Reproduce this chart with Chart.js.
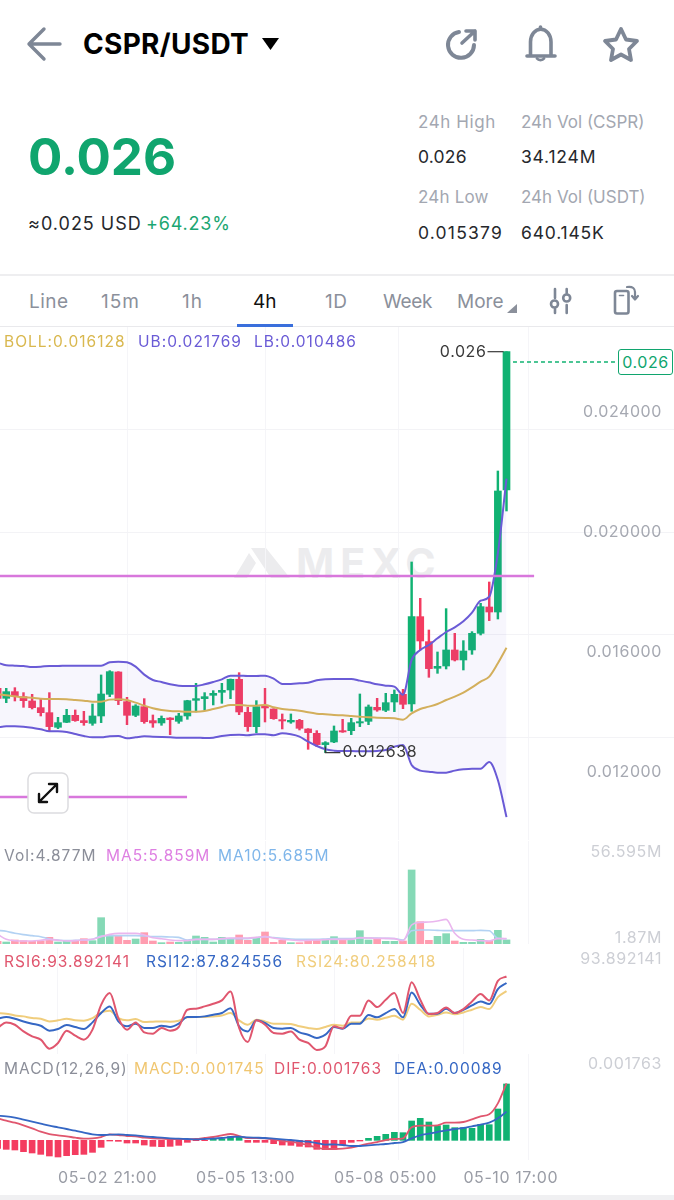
<!DOCTYPE html>
<html>
<head>
<meta charset="utf-8">
<title>CSPR/USDT</title>
<script src="https://cdn.jsdelivr.net/npm/chart.js@4/dist/chart.umd.min.js"></script>
<style>
html, body { margin: 0; padding: 0; background: #fff; }
body { position: relative; width: 674px; height: 1200px; overflow: hidden; font-family: Inter, "Noto Sans", sans-serif; }
.t { position: absolute; white-space: nowrap; line-height: 1; }
.abs { position: absolute; }
canvas { position: absolute; left: 0; display: block; }
.gray { color: #a3a7b1; font-size: 17px; }
.dark { color: #26282c; font-size: 17.5px; letter-spacing: 0.8px; }
.tab { color: #8b909b; font-size: 19px; top: 292px; }
.leg { font-size: 15.5px; letter-spacing: 1px; }
</style>
</head>
<body>

<!-- header -->
<svg class="abs" style="left:0;top:0" width="674" height="330" fill="none" stroke="#7e8796" stroke-width="3.4" stroke-linecap="round" stroke-linejoin="round">
  <path d="M29 44H60M44 29L29 44L44 59"/>
  <path d="M262 38H279L270.5 50Z" fill="#000" stroke="none"/>
  <path d="M459 32A13 13 0 1 0 474 45" stroke-width="4"/>
  <path d="M462 43L475 31M466 31H475V40" stroke-width="3.6"/>
  <path d="M530.5 55V42A10 12.500 0 0 1 551 42V55" stroke-width="3.6"/>
  <path d="M527 56H555M540.500 27V29" stroke-width="3.6"/>
  <path d="M537 58.500A4 3 0 0 0 544 58.500" stroke-width="2.800"/>
  <path d="M621 29L626 39.500L637 41L629 49L631 60L621 54.500L611 60L613 49L605 41L616 39.500Z" stroke-width="3.8"/>
  <path d="M555 289V298M555 309V313M566.700 289V293M566.700 305V313" stroke-width="2.600"/>
  <circle cx="554.500" cy="304" r="3.500" stroke-width="2.600"/>
  <circle cx="566.700" cy="298" r="3.500" stroke-width="2.600"/>
  <rect x="615" y="291" width="13.500" height="22.500" rx="2" stroke-width="2.600"/>
  <path d="M619.500 295.500H623.500" stroke-width="1.600"/>
  <path d="M627 287C633 286 635 289 635 292V299M632 296L635 299.500L638 296" stroke-width="2.200"/>
  <path d="M517 304V313H507Z" fill="#8b909b" stroke="none"/>
</svg>
<div class="t" style="left:83px;top:30px;font-size:28px;font-weight:700;color:#000;letter-spacing:0.3px">CSPR/USDT</div>
<div class="t" style="left:28px;top:131px;font-size:51px;font-weight:700;color:#10a56e">0.026</div>
<div class="t" style="left:28px;top:215px;font-size:18px;color:#26282c;letter-spacing:1px">≈0.025 USD</div>
<div class="t" style="left:146px;top:215px;font-size:18px;color:#1ba672;letter-spacing:0.8px">+64.23%</div>
<div class="t gray" style="left:418px;top:114px;letter-spacing:0.6px">24h High</div>
<div class="t dark" style="left:418px;top:148px;letter-spacing:0.2px">0.026</div>
<div class="t gray" style="left:418px;top:189px;letter-spacing:0.2px">24h Low</div>
<div class="t dark" style="left:418px;top:224px;letter-spacing:1.2px">0.015379</div>
<div class="t gray" style="left:521px;top:114px">24h Vol (CSPR)</div>
<div class="t dark" style="left:521px;top:148px">34.124M</div>
<div class="t gray" style="left:521px;top:189px">24h Vol (USDT)</div>
<div class="t dark" style="left:521px;top:224px">640.145K</div>

<!-- period tabs -->
<div class="abs" style="left:0;top:274px;width:674px;height:2px;background:#eeeef0"></div>
<div class="t tab" style="left:29px;letter-spacing:0.5px">Line</div>
<div class="t tab" style="left:101px;letter-spacing:1px">15m</div>
<div class="t tab" style="left:182px;letter-spacing:1px">1h</div>
<div class="t tab" style="left:253px;color:#111">4h</div>
<div class="t tab" style="left:325px;letter-spacing:0.5px">1D</div>
<div class="t tab" style="left:383px;letter-spacing:-0.3px">Week</div>
<div class="t tab" style="left:457px">More</div>
<div class="abs" style="left:0;top:326px;width:674px;height:1px;background:#e9e9ec"></div>
<div class="abs" style="left:237px;top:324px;width:56px;height:3px;background:#3a6fdc"></div>

<!-- watermark, sits under the candle canvas -->
<svg class="abs" style="left:234px;top:548px" width="60" height="30"><path d="M0 30L15 5L22 15L13 30ZM17 0H32L56 30H37Z" fill="#ececee"/></svg>
<div class="t" style="left:296px;top:543px;font-size:41px;font-weight:700;color:#ececee;letter-spacing:6px">MEXC</div>

<canvas id="priceChart" style="top:327px" width="674" height="513"></canvas>
<canvas id="volChart" style="top:841px" width="674" height="103"></canvas>
<canvas id="rsiChart" style="top:948px" width="674" height="106"></canvas>
<canvas id="macdChart" style="top:1054px" width="674" height="141"></canvas>

<!-- indicator legends -->
<div class="t leg" style="left:4px;top:334px;color:#d9b84f">BOLL:0.016128</div>
<div class="t leg" style="left:138px;top:334px;color:#6a5bd6">UB:0.021769</div>
<div class="t leg" style="left:254px;top:334px;color:#6a5bd6">LB:0.010486</div>
<div class="t leg" style="left:4px;top:848px;color:#8b8e99">Vol:4.877M</div>
<div class="t leg" style="left:106px;top:848px;color:#de7fe2">MA5:5.859M</div>
<div class="t leg" style="left:218px;top:848px;color:#7fb6ea">MA10:5.685M</div>
<div class="t leg" style="left:4px;top:954px;color:#e0566e">RSI6:93.892141</div>
<div class="t leg" style="left:146px;top:954px;color:#3567c4">RSI12:87.824556</div>
<div class="t leg" style="left:296px;top:954px;color:#f0cd7c">RSI24:80.258418</div>
<div class="t leg" style="left:4px;top:1061px;color:#8b8e99">MACD(12,26,9)</div>
<div class="t leg" style="left:134px;top:1061px;color:#f0c670">MACD:0.001745</div>
<div class="t leg" style="left:274px;top:1061px;color:#e0566e">DIF:0.001763</div>
<div class="t leg" style="left:394px;top:1061px;color:#3567c4">DEA:0.00089</div>

<!-- last price tag and expand button -->
<div class="t" style="left:618px;top:349px;width:53px;height:24px;border:1.500px solid #10a56e;border-radius:3px;background:#fff;color:#10a56e;font-size:16px;line-height:24px;text-align:center;letter-spacing:0.6px">0.026</div>
<svg class="abs" style="left:27px;top:772px" width="42" height="42" fill="none" stroke="#111" stroke-width="2.400" stroke-linecap="round" stroke-linejoin="round">
  <rect x="1" y="1" width="40" height="40" rx="6" fill="#fff" stroke="#dcdcdf" stroke-width="1.500"/>
  <path d="M12 30L30 12M22 12H30V20M12 22V30H20"/>
</svg>
<div class="abs" style="left:0;top:1195px;width:674px;height:5px;background:#f0f0f2"></div>

<script>
/*********************** Data ************************/
var opens  = [0.014779,0.014446,0.014668,0.014501,0.014357,0.014135,0.013968,0.013479,0.013646,0.013879,0.013702,0.013613,0.013857,0.014579,0.015324,0.014335,0.013879,0.014168,0.013702,0.013624,0.013790,0.013679,0.013857,0.014379,0.014435,0.014546,0.014646,0.014724,0.015079,0.013979,0.013501,0.014213,0.014090,0.013735,0.013657,0.013713,0.013424,0.013279,0.012902,0.012990,0.013368,0.013368,0.013624,0.013679,0.014146,0.014046,0.014323,0.014579,0.014257,0.017168,0.016335,0.015446,0.015523,0.016057,0.015724,0.016057,0.016612,0.017490,0.017323,0.021390];
var highs  = [0.014813,0.014779,0.014801,0.014635,0.014579,0.014413,0.014635,0.013813,0.014079,0.014057,0.014013,0.014257,0.015224,0.015368,0.015335,0.014479,0.014235,0.014435,0.013890,0.013857,0.013800,0.013946,0.014380,0.014946,0.014635,0.014701,0.014946,0.015090,0.015301,0.014146,0.014368,0.014779,0.014100,0.013924,0.013924,0.013746,0.013434,0.013368,0.013001,0.013524,0.013746,0.013779,0.014590,0.014224,0.014446,0.014612,0.014724,0.014746,0.018990,0.017779,0.016723,0.015990,0.017435,0.016612,0.016368,0.016668,0.017612,0.018323,0.022023,0.026];
var lows   = [0.014390,0.014301,0.014357,0.014146,0.014090,0.013857,0.013368,0.013435,0.013635,0.013679,0.013546,0.013546,0.013635,0.014501,0.014235,0.013568,0.013835,0.013613,0.013479,0.013546,0.013235,0.013613,0.013746,0.013990,0.014057,0.014224,0.014279,0.014435,0.013901,0.013346,0.013301,0.013657,0.013746,0.013424,0.013613,0.013390,0.012746,0.012835,0.012638,0.012968,0.013310,0.013235,0.013502,0.013568,0.014013,0.014002,0.014002,0.014101,0.014013,0.016057,0.015146,0.015279,0.015424,0.015690,0.015390,0.015912,0.016557,0.017035,0.017090,0.020690];
var closes = [0.014446,0.014668,0.014535,0.014368,0.014135,0.013968,0.013502,0.013635,0.013879,0.013702,0.013635,0.013857,0.014590,0.015335,0.014368,0.013879,0.014190,0.013668,0.013624,0.013779,0.013735,0.013857,0.014368,0.014435,0.014501,0.014613,0.014713,0.015079,0.013990,0.013502,0.014168,0.014124,0.013768,0.013690,0.013713,0.013446,0.013302,0.012902,0.012968,0.013357,0.013324,0.013635,0.013668,0.014157,0.014057,0.014301,0.014579,0.014246,0.017168,0.016357,0.015435,0.015512,0.016057,0.015724,0.016023,0.016612,0.017501,0.017323,0.021357,0.026];

var ubVals  = [0.015635,0.015546,0.015535,0.015524,0.015490,0.015501,0.015524,0.015524,0.015535,0.015535,0.015535,0.015535,0.015535,0.015646,0.015668,0.015646,0.015501,0.015235,0.015057,0.014990,0.014913,0.014868,0.014857,0.014857,0.014913,0.014990,0.015079,0.015201,0.015201,0.015190,0.015190,0.015201,0.015101,0.014924,0.014924,0.014946,0.014968,0.015046,0.015079,0.015090,0.015090,0.015090,0.015035,0.014979,0.014912,0.014868,0.014835,0.014568,0.015724,0.016057,0.016224,0.016446,0.016657,0.016812,0.017012,0.017301,0.017701,0.017835,0.019290,0.021769];
var midVals = [0.014590,0.014546,0.014513,0.014479,0.014468,0.014435,0.014424,0.014424,0.014413,0.014390,0.014368,0.014335,0.014335,0.014402,0.014413,0.014390,0.014301,0.014202,0.014113,0.014057,0.014024,0.014013,0.014002,0.014002,0.014024,0.014090,0.014157,0.014224,0.014224,0.014202,0.014202,0.014224,0.014146,0.014090,0.014068,0.014035,0.013979,0.013935,0.013913,0.013890,0.013879,0.013857,0.013835,0.013813,0.013802,0.013791,0.013780,0.013735,0.013946,0.014090,0.014168,0.014257,0.014390,0.014501,0.014635,0.014813,0.015001,0.015168,0.015613,0.016128];
var lbVals  = [0.013479,0.013513,0.013513,0.013502,0.013468,0.013413,0.013346,0.013346,0.013324,0.013257,0.013190,0.013146,0.013146,0.013179,0.013190,0.013113,0.013146,0.013179,0.013168,0.013157,0.013146,0.013135,0.013135,0.013135,0.013124,0.013135,0.013190,0.013224,0.013235,0.013213,0.013246,0.013246,0.013213,0.013279,0.013246,0.013168,0.013001,0.012857,0.012746,0.012702,0.012691,0.012691,0.012679,0.012679,0.012691,0.012724,0.012835,0.012890,0.012224,0.012035,0.012002,0.011968,0.011968,0.012035,0.012079,0.012102,0.012102,0.012324,0.011724,0.010486];

var volumes  = [3.84,3.35,4.83,4.33,3.84,4.09,6.80,3.35,4.09,3.84,5.81,4.33,21.33,8.27,7.78,4.58,5.56,10.24,4.09,2.86,3.35,3.10,3.84,7.78,6.80,3.35,6.80,6.06,8.52,4.58,6.30,10.74,3.10,4.58,2.86,2.86,5.32,4.83,4.58,7.29,5.32,4.83,11.72,4.83,5.81,3.84,3.84,4.09,56.595,18.37,4.58,7.54,9.51,4.09,3.10,3.10,5.32,4.09,11.97,4.877];
var ma5Vals  = [9.01,5.32,4.33,4.09,4.09,4.58,5.32,4.58,4.09,4.33,4.83,5.32,7.29,9.01,9.75,9.75,9.75,8.52,6.55,5.81,4.83,4.33,4.33,5.32,5.32,5.32,5.81,6.30,6.30,6.30,6.80,7.29,6.30,5.32,4.83,4.33,4.58,4.83,5.07,5.32,5.32,5.32,6.55,6.30,6.06,6.06,5.81,4.33,15.91,17.88,18.13,18.86,20.10,9.75,5.32,4.83,4.33,4.09,5.81,5.859];
var ma10Vals = [11.97,11.23,9.75,8.77,8.03,7.29,5.56,4.83,4.33,4.58,4.83,5.32,7.78,8.03,8.03,8.03,8.03,7.78,7.29,7.29,7.04,6.80,4.83,5.32,5.32,5.32,5.56,5.81,5.81,5.81,6.55,7.29,6.55,6.06,5.56,5.32,5.32,5.32,5.56,5.81,5.81,5.81,6.30,6.30,6.30,6.06,5.81,4.83,11.72,12.21,12.21,11.97,11.72,11.72,11.72,11.72,11.97,11.72,6.06,5.685];

var rsi6Vals  = [45.9,51.1,48.9,42.7,38.1,35.0,26.6,31.9,43.4,38.7,35.0,44.3,67.5,78.4,55.1,44.3,51.1,41.8,40.6,45.9,43.4,46.8,62.9,63.8,66.0,68.5,71.6,79.9,45.9,32.8,53.0,48.9,41.2,40.6,42.7,35.0,31.9,25.4,28.8,47.4,45.5,57.3,57.3,71.6,65.4,72.2,78.4,59.8,88.6,72.2,58.9,59.8,65.1,59.8,63.5,70.6,77.5,71.6,89.9,93.892141];
var rsi12Vals = [54.5,56.1,54.5,52.0,49.9,48.0,43.4,44.9,48.6,46.8,44.9,51.1,59.8,66.0,52.0,47.4,49.9,45.9,45.9,48.0,46.8,49.9,56.1,56.1,56.7,58.2,59.8,64.4,47.4,42.7,53.0,50.5,45.9,45.2,45.9,41.8,39.6,36.5,39.6,46.8,45.2,49.9,49.9,57.9,55.8,59.8,63.5,55.8,79.0,67.5,59.2,59.2,63.8,59.8,62.9,66.9,70.6,68.2,82.1,87.824556];
var rsi24Vals = [59.8,59.2,57.6,56.7,55.1,54.5,52.0,53.0,54.5,53.0,52.7,55.1,60.4,62.0,55.1,53.0,54.2,51.4,51.7,52.0,51.7,52.7,55.8,56.1,56.1,56.7,57.6,59.8,53.0,48.9,53.6,52.0,49.9,49.9,49.6,47.4,45.9,44.9,46.8,48.9,48.0,51.1,51.1,54.8,53.6,55.4,57.3,53.6,68.5,62.9,56.7,58.2,60.4,58.6,60.4,62.9,65.4,63.5,74.7,80.258418];

var macdVals = [-0.000248,-0.000279,-0.000299,-0.000351,-0.000392,-0.000434,-0.000485,-0.000516,-0.000475,-0.000444,-0.000434,-0.000372,-0.000217,-0.000021,-0.000031,-0.000083,-0.000083,-0.000145,-0.000186,-0.000196,-0.000186,-0.000155,-0.000062,-0.000010,-0.000010,0.000041,0.000052,0.000114,0.000114,-0.000062,-0.000062,-0.000062,-0.000103,-0.000145,-0.000155,-0.000186,-0.000207,-0.000279,-0.000289,-0.000279,-0.000145,-0.000062,-0.000021,0.000062,0.000124,0.000186,0.000248,0.000237,0.000599,0.000681,0.000568,0.000454,0.000475,0.000392,0.000392,0.000372,0.000496,0.000485,0.000971,0.001745];
var difVals  = [0.000681,0.000609,0.000547,0.000465,0.000372,0.000268,0.000196,0.000155,0.000124,0.000083,0.000052,0.000062,0.000103,0.000186,0.000165,0.000134,0.000124,0.000083,0.000062,0.000052,0.000041,0.000041,0.000031,0.000041,0.000072,0.000103,0.000155,0.000196,0.000134,0.000072,0.000072,0.000062,0.000021,-0.000021,-0.000041,-0.000093,-0.000145,-0.000227,-0.000268,-0.000268,-0.000258,-0.000227,-0.000165,-0.000103,-0.000052,0.000010,0.000041,0.000062,0.000403,0.000454,0.000454,0.000465,0.000547,0.000547,0.000568,0.000650,0.000743,0.000805,0.001146,0.001763];
var deaVals  = [0.000764,0.000743,0.000702,0.000640,0.000578,0.000516,0.000454,0.000403,0.000351,0.000299,0.000237,0.000186,0.000165,0.000176,0.000186,0.000165,0.000155,0.000124,0.000103,0.000083,0.000062,0.000052,0.000041,0.000031,0.000041,0.000052,0.000072,0.000103,0.000114,0.000093,0.000083,0.000072,0.000052,0.000031,0.000010,-0.000021,-0.000041,-0.000083,-0.000134,-0.000124,-0.000145,-0.000176,-0.000176,-0.000155,-0.000134,-0.000114,-0.000083,-0.000052,0.000062,0.000155,0.000206,0.000258,0.000310,0.000351,0.000382,0.000434,0.000485,0.000547,0.000681,0.00089];

var timeTicks  = [7, 23, 39, 54];
var timeLabels = ['05-02 21:00', '05-05 13:00', '05-08 05:00', '05-10 17:00'];
var priceTicks = [0.012, 0.016, 0.02, 0.024];
var volTicks   = [1.87, 56.595];
var rsiTicks   = [93.892141];
var macdTicks  = [0.001763];

// hand drawn trend lines and the last price marker: [from index, to index, price]
var upperLine  = [0, 62.2, 0.018523];
var lowerLine  = [0, 21.96, 0.011157];
var priceMark  = [59.75, 71.93, 0.025657];
var highIndex  = 59;
var lowIndex   = 38;

/*********************** Shared options ************************/
var GREEN = '#10b272', RED = '#f43c60';
var FONT = { family: 'Inter', size: 16 };

// canvas text in the app runs a little wider than Inter
Chart.register({
    id: 'textSpacing',
    beforeDraw: function (chart) { chart.ctx.letterSpacing = '0.6px'; }
});

function points(vals) {
    return vals.map(function (v, i) { return { x: i, y: v }; });
}
function segment(s) {
    return [{ x: s[0], y: s[2] }, { x: s[1], y: s[2] }];
}
function isUp(i) {
    return closes[i] >= opens[i];
}
function line(vals, color, width, extra) {
    return Object.assign({
        type: 'line', data: points(vals), borderColor: color, borderWidth: width,
        pointRadius: 0, cubicInterpolationMode: 'monotone', fill: false, order: 1
    }, extra || {});
}
function noPad(scale) {
    scale.paddingTop = 0; scale.paddingBottom = 0; scale.paddingLeft = 0; scale.paddingRight = 0;
}
// same column positions in every pane
function xAxis(showLabels) {
    return {
        type: 'linear', min: 0.2754, max: 78.42, offset: false,
        grid: { color: '#f5f5f8', drawTicks: false },
        border: { display: false },
        afterBuildTicks: function (s) { s.ticks = timeTicks.map(function (v) { return { value: v }; }); },
        afterFit: function (s) { noPad(s); s.height = showLabels ? 35 : 0; },
        ticks: {
            display: showLabels, align: 'start', autoSkip: false, maxRotation: 0, padding: 9,
            color: '#9a9da6', font: FONT,
            callback: function (v) { return timeLabels[timeTicks.indexOf(v)]; }
        }
    };
}
// right hand axis with its labels over the plot, zero width so the plot keeps the full canvas
function labelAxis(min, max, values, fmt, color, labelOffset) {
    return {
        position: 'right', min: min, max: max,
        grid: { display: false }, border: { display: false },
        afterBuildTicks: function (s) { s.ticks = values.map(function (v) { return { value: v }; }); },
        afterFit: function (s) { noPad(s); s.width = 0; },
        ticks: {
            mirror: true, padding: -12, autoSkip: false, color: color, font: FONT,
            labelOffset: labelOffset || 0, callback: fmt
        }
    };
}
function baseOptions(scales) {
    return {
        responsive: false, animation: false, events: [],
        layout: { padding: 0, autoPadding: false },
        plugins: { legend: { display: false }, tooltip: { enabled: false } },
        scales: scales
    };
}

/*********************** Price pane ************************/
// labels the high and low candles with a small leader line
var extremeLabels = {
    id: 'extremeLabels',
    afterDatasetsDraw: function (chart) {
        var c = chart.ctx, x = chart.scales.x, y = chart.scales.y;
        c.save();
        c.strokeStyle = '#3a3a3a'; c.fillStyle = '#3a3a3a'; c.lineWidth = 1.2;
        c.font = '16px Inter'; c.textBaseline = 'middle';

        var hx = x.getPixelForValue(highIndex), hy = y.getPixelForValue(highs[highIndex]);
        c.beginPath(); c.moveTo(hx - 3, hy); c.lineTo(hx - 19, hy); c.stroke();
        c.textAlign = 'right';
        c.fillText(String(highs[highIndex]), hx - 20, hy);

        var lx = x.getPixelForValue(lowIndex), ly = y.getPixelForValue(lows[lowIndex]);
        c.beginPath(); c.moveTo(lx, ly - 6); c.lineTo(lx, ly); c.lineTo(lx + 15, ly); c.stroke();
        c.textAlign = 'left';
        c.fillText(lows[lowIndex].toFixed(6), lx + 17, ly);
        c.restore();
    }
};

new Chart(document.getElementById('priceChart'), {
    type: 'bar',
    data: {
        datasets: [
            line(ubVals, '#6a5bd6', 2, { fill: '+1', backgroundColor: 'rgba(106,91,214,0.055)' }),
            line(lbVals, '#6a5bd6', 2),
            line(midVals, '#d9b455', 2),
            { type: 'line', data: segment(upperLine), borderColor: '#d877dc', borderWidth: 2.4, pointRadius: 0, order: 0 },
            { type: 'line', data: segment(lowerLine), borderColor: '#d877dc', borderWidth: 2.4, pointRadius: 0, order: 0 },
            { type: 'line', data: segment(priceMark), borderColor: GREEN, borderWidth: 1.5, borderDash: [4, 3], pointRadius: 0, order: 0 },
            {
                data: opens.map(function (v, i) { return { x: i, y: [lows[i], highs[i]] }; }),
                backgroundColor: opens.map(function (v, i) { return isUp(i) ? GREEN : RED; }),
                barThickness: 1.8, grouped: false, order: 3
            },
            {
                data: opens.map(function (v, i) { return { x: i, y: [v, closes[i]] }; }),
                backgroundColor: opens.map(function (v, i) { return isUp(i) ? GREEN : RED; }),
                barThickness: 7, grouped: false, order: 2
            }
        ]
    },
    options: baseOptions({
        x: xAxis(false),
        y: labelAxis(0.009723, 0.026823, priceTicks, function (v) { return v.toFixed(6); }, '#a6a9b2'),
        // the pane is ruled in five equal rows, independent of the price ticks
        rows: {
            position: 'left', min: 0, max: 5,
            grid: { color: '#f3f3f6', drawTicks: false }, border: { display: false },
            afterBuildTicks: function (s) { s.ticks = [1, 2, 3, 4].map(function (v) { return { value: v }; }); },
            afterFit: function (s) { noPad(s); s.width = 0; },
            ticks: { display: false }
        }
    }),
    plugins: [extremeLabels]
});

/*********************** Volume pane ************************/
new Chart(document.getElementById('volChart'), {
    type: 'bar',
    data: {
        datasets: [
            line(ma5Vals, '#eab6ee', 1.6, { order: 0 }),
            line(ma10Vals, '#b3d2f3', 1.6, { order: 0 }),
            {
                data: points(volumes),
                backgroundColor: volumes.map(function (v, i) { return isUp(i) ? '#85d9b6' : '#ff9db0'; }),
                barThickness: 7, grouped: false, order: 2
            }
        ]
    },
    options: baseOptions({
        x: xAxis(false),
        y: { min: 1.87, max: 78, display: false },
        volLabels: labelAxis(-1.95, 63.59, volTicks, function (v) { return v + 'M'; }, '#cdcfd5')
    })
});

/*********************** RSI pane ************************/
new Chart(document.getElementById('rsiChart'), {
    type: 'line',
    data: {
        datasets: [
            line(rsi24Vals, '#f0cd7c', 2, { order: 3 }),
            line(rsi12Vals, '#3567c4', 2, { order: 2 }),
            line(rsi6Vals, '#e0566e', 2, { order: 1 })
        ]
    },
    options: baseOptions({
        x: xAxis(false),
        y: labelAxis(21.6, 120.5, rsiTicks, function (v) { return String(v); }, '#cdcfd5', -17)
    })
});

/*********************** MACD pane ************************/
new Chart(document.getElementById('macdChart'), {
    type: 'bar',
    data: {
        datasets: [
            line(difVals, '#e0566e', 1.8, { order: 1 }),
            line(deaVals, '#3567c4', 1.8, { order: 0 }),
            {
                data: points(macdVals),
                backgroundColor: macdVals.map(function (v) { return v >= 0 ? GREEN : RED; }),
                barThickness: 6, grouped: false, order: 2
            }
        ]
    },
    options: baseOptions({
        x: xAxis(true),
        y: labelAxis(-0.000609, 0.002674, macdTicks, function (v) { return String(v); }, '#cdcfd5', -19)
    })
});
</script>
</body>
</html>
